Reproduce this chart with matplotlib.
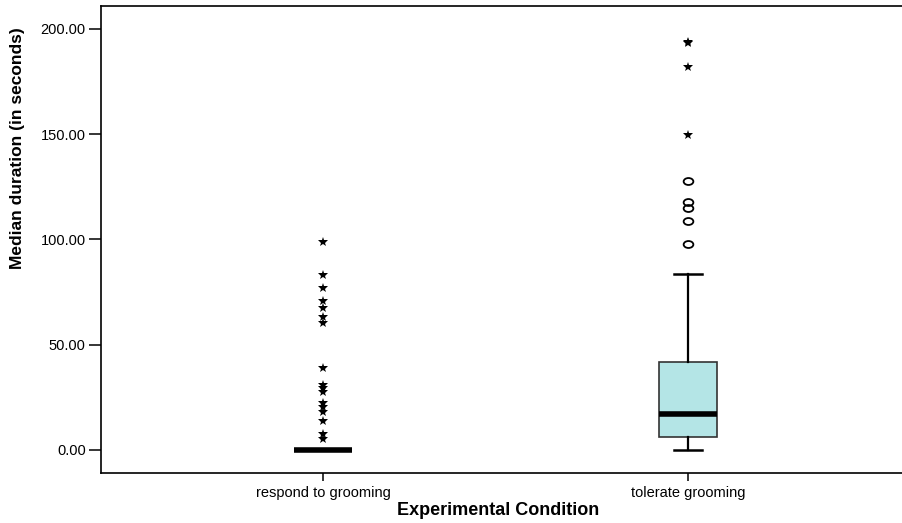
import matplotlib as mpl
mpl.use('Agg')
import matplotlib.pyplot as plt
from matplotlib import rcParams
from matplotlib.path import Path
from matplotlib.transforms import Affine2D

rcParams['font.family'] = ['Liberation Sans', 'DejaVu Sans']

# data
categories = ['respond to grooming', 'tolerate grooming']
box_q1 = [0.0, 6.2]
box_median = [0.0, 17.1]
box_q3 = [0.0, 41.8]
whisker_low = [0.0, 0.0]
whisker_high = [0.0, 83.6]
# mild outliers (circles)
outliers_mild = [[], [127.9, 117.6, 114.8, 108.9, 97.9]]
# extreme outliers (stars)
outliers_extreme = [
    [98.7, 83.1, 76.8, 70.9, 67.3, 63.0, 60.2, 38.8, 30.9, 29.4, 27.4,
     22.2, 20.5, 18.0, 14.0, 7.6, 5.3],
    [193.2, 193.8, 182.1, 149.6],
]
y_ticks = [0, 50, 100, 150, 200]

# wide open ellipse like the SPSS circle marker
ellipse = Path.unit_circle().transformed(Affine2D().scale(1.4, 1.0))

fig = plt.figure(figsize=(9.02, 5.23), dpi=100)
ax = fig.add_axes([101 / 902, 50 / 523, 809 / 902, 467 / 523])

stats = []
for i, name in enumerate(categories):
    stats.append(dict(label=name, q1=box_q1[i], med=box_median[i], q3=box_q3[i],
                      whislo=whisker_low[i], whishi=whisker_high[i],
                      fliers=outliers_mild[i]))

positions = [1, 2]
ax.bxp(stats, positions=positions, widths=0.157, capwidths=0.077, patch_artist=True,
       boxprops=dict(facecolor='#b4e5e6', edgecolor='#333333', linewidth=1.2),
       medianprops=dict(color='black', linewidth=4.0, solid_capstyle='butt'),
       whiskerprops=dict(color='black', linewidth=1.6),
       capprops=dict(color='black', linewidth=1.8),
       flierprops=dict(marker=ellipse, markerfacecolor='none', markeredgecolor='black',
                       markersize=7, markeredgewidth=1.3, linestyle='none'))

for pos, vals in zip(positions, outliers_extreme):
    ax.plot([pos] * len(vals), vals, linestyle='none', marker='*',
            markersize=7, color='black', markeredgewidth=0)

ax.set_xlim(0.392, 2.608)
ax.set_ylim(-10.93, 210.9)
ax.set_yticks(y_ticks)
ax.set_yticklabels(['%.2f' % v for v in y_ticks])
ax.set_xticks(positions)
ax.set_xticklabels(categories)

ax.spines['right'].set_visible(False)
for s in ['left', 'top', 'bottom']:
    ax.spines[s].set_linewidth(1.2)
ax.tick_params(axis='y', direction='out', length=9, width=1.1, pad=2, labelsize=10.5)
ax.tick_params(axis='x', direction='out', length=6, width=1.1, pad=3, labelsize=10.5)

ax.set_xlabel('Experimental Condition', fontsize=13, fontweight='bold')
ax.set_ylabel('Median duration (in seconds)', fontsize=12.5, fontweight='bold')
ax.xaxis.set_label_coords(0.491, -0.081)
ax.xaxis.label.set_va('center')
ax.yaxis.set_label_coords(-0.103, 0.696)
ax.yaxis.label.set_va('center')

plt.savefig('out.png', dpi=100)
